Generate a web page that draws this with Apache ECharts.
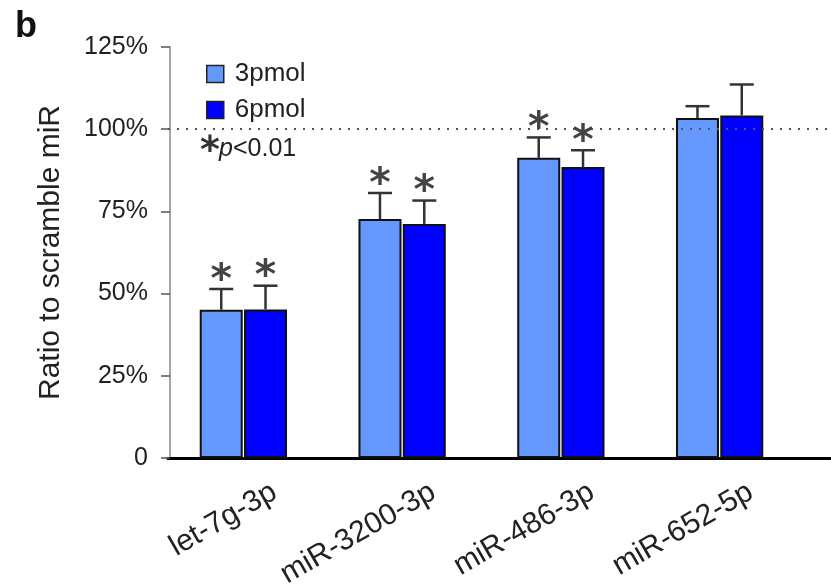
<!DOCTYPE html>
<html>
<head>
<meta charset="utf-8">
<script src="https://cdn.jsdelivr.net/npm/echarts@6/dist/echarts.min.js"></script>
<style>html,body{margin:0;padding:0;background:#fff}#c{width:831px;height:586px}</style>
</head>
<body>
<div id="c"></div>
<script>
// ---- data ----
const categories = ['let-7g-3p', 'miR-3200-3p', 'miR-486-3p', 'miR-652-5p'];
const seriesNames = ['3pmol', '6pmol'];
const pmol3 = [45.1, 72.7, 91.3, 103.4];
const pmol6 = [45.2, 71.2, 88.5, 104.2];
const err3 = [6.3, 7.9, 6.2, 3.6];
const err6 = [7.2, 7.1, 5.1, 9.4];
const sig3 = [1, 1, 1, 0];
const sig6 = [1, 1, 1, 0];
const yTicks = [0, 25, 50, 75, 100, 125];
const refLine = 100;

const FONT = 'Liberation Sans, Arial, Helvetica, sans-serif';
const BAR_W = 43, BAR_GAP = 1.3;
const OFF = (BAR_W + BAR_GAP) / 2;

function errSeries(name, vals, errs, sigs, offset) {
  return {
    type: 'custom', name: name + ' err', z: 5, silent: true,
    xAxisIndex: 0, yAxisIndex: 0,
    data: vals.map((v, i) => [i, v, errs[i], sigs[i]]),
    renderItem: function (params, api) {
      const cat = api.value(0), v = api.value(1), e = api.value(2), s = api.value(3);
      const p0 = api.coord([cat, v]);
      const p1 = api.coord([cat, v + e]);
      const x = p0[0] + offset;
      const st = { stroke: '#333', lineWidth: 2.5 };
      const ch = [
        { type: 'line', shape: { x1: x, y1: p0[1], x2: x, y2: p1[1] }, style: st },
        { type: 'line', shape: { x1: x - 12, y1: p1[1], x2: x + 12, y2: p1[1] }, style: st }
      ];
      if (s) {
        ch.push({ type: 'text', style: { text: '*', x: x, y: p1[1] - 8, align: 'center', verticalAlign: 'middle',
          font: 'bold 41px DejaVu Sans', fill: '#444' } });
      }
      return { type: 'group', children: ch };
    }
  };
}

const chart = echarts.init(document.getElementById('c'), null, { renderer: 'canvas' });
chart.setOption({
  animation: false,
  backgroundColor: '#fff',
  textStyle: { fontFamily: FONT },
  title: { text: 'b', left: 10, top: 4, textStyle: { fontSize: 36, fontWeight: 'bold', color: '#111', fontFamily: FONT } },
  legend: {
    data: seriesNames, orient: 'vertical', left: 201, top: 56, icon: 'rect',
    itemWidth: 17, itemHeight: 17, itemGap: 10,
    textStyle: { fontSize: 26, color: '#222', fontFamily: FONT, padding: [0, 0, 0, 6], lineHeight: 25 },
    itemStyle: { borderColor: '#222', borderWidth: 1.5 }
  },
  grid: [
    { left: 164, right: 32, top: 47, bottom: 128, containLabel: false, outerBoundsMode: 'none' },
    { left: 168, right: 0, top: 47, bottom: 128, containLabel: false, outerBoundsMode: 'none' }
  ],
  xAxis: [
    { type: 'category', gridIndex: 0, data: categories,
      axisLine: { show: false }, axisTick: { show: false },
      axisLabel: { rotate: 30, fontSize: 30, color: '#222', fontFamily: FONT, margin: 50, interval: 0, padding: [0, -36, 0, 0] } },
    { type: 'value', gridIndex: 1, min: 0, max: 1,
      axisLine: { show: true, onZero: false, lineStyle: { color: '#000', width: 3 } },
      axisTick: { show: false }, axisLabel: { show: false }, splitLine: { show: false } }
  ],
  yAxis: [
    { type: 'value', gridIndex: 0, min: yTicks[0], max: yTicks[yTicks.length - 1], interval: 25, offset: -6,
      axisLine: { show: true, lineStyle: { color: '#888', width: 1.5 } },
      axisTick: { show: true, length: 9, lineStyle: { color: '#555', width: 1.5 } },
      axisLabel: { fontSize: 25, color: '#222', margin: 22, fontFamily: FONT, formatter: v => v === 0 ? '0' : v + '%' },
      splitLine: { show: false },
      name: 'Ratio to scramble miR', nameLocation: 'middle', nameGap: 104, nameRotate: 90,
      nameTextStyle: { fontSize: 30, color: '#222', fontFamily: FONT } },
    { type: 'value', gridIndex: 1, min: yTicks[0], max: yTicks[yTicks.length - 1], show: false }
  ],
  series: [
    { type: 'bar', name: seriesNames[0], data: pmol3, xAxisIndex: 0, yAxisIndex: 0,
      barWidth: BAR_W, barGap: '3%', itemStyle: { color: '#6598FF', borderColor: '#111', borderWidth: 2 } },
    { type: 'bar', name: seriesNames[1], data: pmol6, xAxisIndex: 0, yAxisIndex: 0,
      barWidth: BAR_W, barGap: '3%', itemStyle: { color: '#0000FF', borderColor: '#111', borderWidth: 2 } },
    errSeries(seriesNames[0], pmol3, err3, sig3, -OFF),
    errSeries(seriesNames[1], pmol6, err6, sig6, OFF),
    { type: 'line', name: 'ref', xAxisIndex: 1, yAxisIndex: 1, data: [], silent: true,
      markLine: { silent: true, symbol: 'none', label: { show: false },
        lineStyle: { color: '#555', width: 2, type: [2, 7] },
        data: [{ yAxis: refLine }] } }
  ],
  graphic: [
    { type: 'text', left: 200, top: 133, style: { text: '*', font: 'bold 38px DejaVu Sans', fill: '#333' } },
    { type: 'text', left: 219, top: 137, style: { text: 'p', font: 'italic 25px ' + FONT, fill: '#222' } },
    { type: 'text', left: 233, top: 137, style: { text: '<0.01', font: '25px ' + FONT, fill: '#222' } }
  ]
});
</script>
</body>
</html>
